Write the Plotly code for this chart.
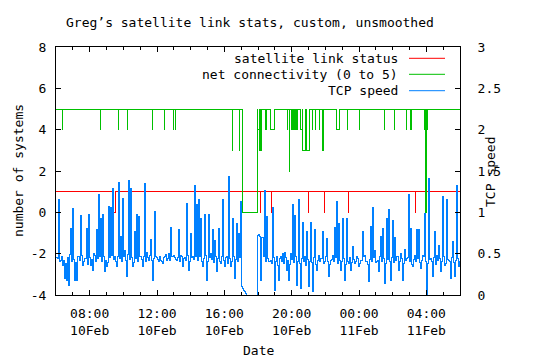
import plotly.graph_objects as go
import pandas as pd

START = "2010-02-10 06:00"
END = "2010-02-11 06:00"

SERIES_NAMES = ["satellite link status", "net connectivity (0 to 5)", "TCP speed"]
SERIES_COLORS = ["#ff0000", "#00c000", "#0080ff"]

# TCP speed readings (right axis): the spike/dip level read every ~7 minutes
tcp_peaks = [
    0.45, 1.15, 0.42, 0.36, 0.20, 0.17, 0.12, 0.80, 1.05, 0.18,
    0.17, 0.46, 0.96, 0.36, 0.44, 0.80, 0.97, 0.36, 0.30, 0.48,
    0.79, 1.21, 0.92, 0.97, 0.28, 0.34, 1.07, 1.06, 1.29, 0.47,
    0.34, 1.36, 0.71, 1.17, 0.54, 0.22, 1.39, 1.29, 0.34, 0.77,
    0.97, 0.95, 0.46, 0.34, 1.35, 0.52, 0.42, 0.67, 0.18, 1.01,
    0.45, 0.40, 0.42, 0.38, 0.47, 0.42, 0.50, 0.82, 0.47, 0.45,
    0.42, 0.79, 0.48, 0.34, 0.45, 1.11, 0.30, 0.75, 0.46, 1.32,
    1.09, 1.15, 0.92, 0.35, 0.97, 0.18, 0.97, 0.50, 0.79, 0.66,
    0.28, 0.80, 0.38, 1.15, 0.34, 0.46, 1.43, 0.34, 0.93, 0.20,
    0.87, 0.75, 1.13, 0.08, 0.04, 0.00, 0.00, 0.00, 0.00, 0.00,
    0.00,
    0.73, 0.18, 0.70, 1.27, 0.95, 0.40, 0.42, 1.06, 0.05, 0.46,
    0.18, 0.46, 0.50, 0.52, 0.30, 0.18, 0.50, 1.09, 0.96, 0.12,
    1.15, 0.08, 0.88, 0.46, 0.77, 0.10, 0.88, 0.04, 0.79, 0.30,
    0.48, 0.44, 0.77, 0.40, 0.68, 0.22, 0.42, 0.48, 0.82, 1.13,
    0.87, 0.30, 0.93, 0.18, 0.93, 0.38, 0.30, 0.59, 0.38, 0.46,
    0.34,
    0.42, 0.77, 0.48, 0.40, 0.16, 0.83, 1.06, 0.54, 0.40, 0.28,
    0.71, 0.81, 0.14, 0.93, 1.04, 0.18, 0.90, 0.70, 0.46, 0.30,
    0.50, 0.18, 0.55, 0.44, 1.22, 0.81, 0.34, 0.48, 0.79, 0.79,
    0.32, 0.48, 0.99, 0.00, 1.41, 0.44, 0.22, 0.77, 0.48, 0.60,
    0.28, 1.19, 0.36, 1.16, 0.42, 0.20, 0.65, 0.22, 1.33, 0.34,
    1.01,
]

# TCP speed band level read between consecutive readings above
tcp_band = [
    0.44, 0.40, 0.47, 0.42, 0.38, 0.45, 0.49, 0.41, 0.43, 0.39,
    0.46, 0.42, 0.48, 0.40, 0.44, 0.37, 0.45, 0.43, 0.50, 0.41,
    0.44, 0.47, 0.40, 0.46, 0.42, 0.39, 0.45, 0.48, 0.43, 0.41,
    0.47, 0.44, 0.40, 0.46, 0.42, 0.49, 0.43, 0.45, 0.39, 0.44,
    0.41, 0.47, 0.43, 0.46, 0.40, 0.45, 0.48, 0.42, 0.44, 0.46,
    0.43, 0.47, 0.41, 0.45, 0.49, 0.44, 0.42, 0.46, 0.48, 0.43,
    0.45, 0.41, 0.47, 0.44, 0.42, 0.48, 0.40, 0.45, 0.43, 0.47,
    0.42, 0.46, 0.40, 0.44, 0.48, 0.41, 0.45, 0.43, 0.39, 0.46,
    0.44, 0.40, 0.47, 0.42, 0.45, 0.38, 0.44, 0.41, 0.46, 0.43,
    0.40, 0.45, 0.10, 0.06, 0.02, 0.00, 0.00, 0.00, 0.00, 0.00,
    0.72, 0.71, 0.70, 0.46, 0.40, 0.44, 0.41, 0.38, 0.45, 0.40,
    0.36, 0.44, 0.40, 0.38, 0.45, 0.42, 0.37, 0.43, 0.39, 0.46,
    0.41, 0.38, 0.44, 0.40, 0.36, 0.43, 0.41, 0.39, 0.45, 0.37,
    0.42, 0.40, 0.44, 0.38, 0.46, 0.41, 0.37, 0.43, 0.40, 0.45,
    0.38, 0.42, 0.40, 0.44, 0.37, 0.41, 0.45, 0.39, 0.43, 0.40,
    0.44, 0.38, 0.42, 0.46, 0.40, 0.37, 0.43, 0.41, 0.45, 0.39,
    0.42, 0.46, 0.40, 0.44, 0.38, 0.43, 0.41, 0.45, 0.39, 0.42,
    0.46, 0.40, 0.44, 0.38, 0.42, 0.45, 0.41, 0.37, 0.43, 0.40,
    0.44, 0.39, 0.42, 0.46, 0.40, 0.38, 0.43, 0.41, 0.45, 0.37,
    0.42, 0.44, 0.40, 0.46, 0.38, 0.43, 0.41, 0.45, 0.39, 0.42,
    0.44, 0.40,
]

# net connectivity: normally 5, with dips (start, value, minutes)
conn_base = 5
conn_dip_start = [
    "2010-02-10 06:22", "2010-02-10 08:38", "2010-02-10 09:42", "2010-02-10 10:14",
    "2010-02-10 11:43", "2010-02-10 12:26", "2010-02-10 12:58", "2010-02-10 13:05",
    "2010-02-10 16:28", "2010-02-10 16:53", "2010-02-10 17:04", "2010-02-10 17:59",
    "2010-02-10 18:05", "2010-02-10 18:07", "2010-02-10 18:10", "2010-02-10 18:28",
    "2010-02-10 18:46", "2010-02-10 19:44", "2010-02-10 19:51", "2010-02-10 19:58",
    "2010-02-10 20:01", "2010-02-10 20:06", "2010-02-10 20:11", "2010-02-10 20:14",
    "2010-02-10 20:18", "2010-02-10 20:32", "2010-02-10 20:37", "2010-02-10 20:50",
    "2010-02-10 20:52", "2010-02-10 21:13", "2010-02-10 21:24", "2010-02-10 21:38",
    "2010-02-10 21:50", "2010-02-10 22:41", "2010-02-10 23:18", "2010-02-11 00:01",
    "2010-02-11 01:30", "2010-02-11 02:06", "2010-02-11 02:48", "2010-02-11 03:05",
    "2010-02-11 03:52", "2010-02-11 03:57", "2010-02-11 04:01",
]
conn_dip_value = [
    4, 4, 4, 4, 4, 4, 4, 4,
    3, 3, 0, 4, 3, 4, 3, 4,
    4, 4, 2, 4, 4, 4, 4, 4,
    4, 4, 3, 4, 3, 4, 4, 4,
    3, 4, 4, 4, 4, 4, 4, 4,
    4, 0, 4,
]
conn_dip_minutes = [
    2, 2, 2, 2, 2, 2, 2, 2,
    2, 2, 55, 6, 2, 3, 2, 2,
    13, 2, 2, 2, 2, 2, 2, 2,
    2, 5, 13, 2, 13, 2, 2, 2,
    2, 10, 2, 2, 2, 2, 2, 2,
    5, 4, 2,
]

# satellite link status: normally 1, drops to 0
link_base = 1
link_dip_start = [
    "2010-02-10 09:25", "2010-02-10 18:08", "2010-02-10 18:47", "2010-02-10 20:59",
    "2010-02-10 21:56", "2010-02-10 23:22", "2010-02-11 03:21", "2010-02-11 03:58",
]
link_dip_minutes = [8, 2, 2, 2, 2, 2, 2, 2]


def step_series(base, starts, values, minutes):
    xs = [pd.Timestamp(START)]
    ys = [base]
    for s, v, m in zip(starts, values, minutes):
        t = pd.Timestamp(s)
        xs += [t, t + pd.Timedelta(minutes=m)]
        ys += [v, base]
    xs.append(pd.Timestamp(END))
    ys.append(base)
    return xs, ys


link_x, link_y = step_series(link_base, link_dip_start, [0] * len(link_dip_start), link_dip_minutes)
conn_x, conn_y = step_series(conn_base, conn_dip_start, conn_dip_value, conn_dip_minutes)

tcp_y = []
for p, b in zip(tcp_peaks, tcp_band):
    tcp_y += [p, b]
tcp_y.append(tcp_peaks[-1])
tcp_x = pd.date_range(START, END, periods=len(tcp_y))

fig = go.Figure()
fig.add_trace(go.Scatter(x=link_x, y=link_y, mode="lines", line=dict(color=SERIES_COLORS[0], width=1, shape="hv"),
                         name=SERIES_NAMES[0]))
fig.add_trace(go.Scatter(x=conn_x, y=conn_y, mode="lines", line=dict(color=SERIES_COLORS[1], width=1, shape="hv"),
                         name=SERIES_NAMES[1]))
fig.add_trace(go.Scatter(x=tcp_x, y=tcp_y, mode="lines", line=dict(color=SERIES_COLORS[2], width=1, shape="hv"),
                         name=SERIES_NAMES[2], yaxis="y2"))

FONT = "DejaVu Sans Mono"
left_ticks = [-4, -2, 0, 2, 4, 6, 8]
right_ticks = [0, 0.5, 1, 1.5, 2, 2.5, 3]

fig.update_layout(
    width=540, height=360,
    margin=dict(l=56, r=80, t=47, b=65, autoexpand=False),
    paper_bgcolor="white", plot_bgcolor="white",
    showlegend=False,
    font=dict(family=FONT, size=13, color="black"),
    xaxis=dict(
        type="date", range=[START, END],
        showline=True, linecolor="black", linewidth=1, mirror="ticks",
        ticks="inside", ticklen=5, tickcolor="black", tickwidth=1,
        tick0="2010-02-10 08:00", dtick=4 * 3600 * 1000,
        tickformat="%H:%M<br>%d%b", ticklabelstandoff=6,
        showgrid=False, zeroline=False,
        minor=dict(dtick=3600 * 1000, ticks="inside", ticklen=3, tickcolor="black", showgrid=False),
    ),
    yaxis=dict(
        range=[-4, 8], tickvals=left_ticks, ticktext=[str(v) for v in left_ticks],
        ticks="inside", ticklen=5, tickcolor="black",
        showline=True, linecolor="black", linewidth=1, mirror=True,
        showgrid=False, zeroline=False, ticklabelstandoff=6,
    ),
    yaxis2=dict(
        overlaying="y", side="right", range=[0, 3],
        tickvals=right_ticks, ticktext=[("%g" % v) for v in right_ticks],
        ticks="inside", ticklen=5, tickcolor="black",
        showline=True, linecolor="black", linewidth=1,
        showgrid=False, zeroline=False, ticklabelstandoff=14,
    ),
)

annots = [
    dict(text="Greg\u2019s satellite link stats, custom, unsmoothed", x=0.479, y=1.0968,
         xanchor="center", yanchor="middle"),
    dict(text="number of systems", x=-0.094, y=0.5, textangle=-90, xanchor="center", yanchor="middle"),
    dict(text="TCP speed", x=1.0767, y=0.496, textangle=-90, xanchor="center", yanchor="middle"),
    dict(text="Date", x=0.5, y=-0.2258, xanchor="center", yanchor="middle"),
]
legend_rows = [0.9544, 0.8899, 0.8238]
shapes = []
for name, color, yy in zip(SERIES_NAMES, SERIES_COLORS, legend_rows):
    annots.append(dict(text=name, x=0.8515, y=yy, xanchor="right", yanchor="middle"))
    shapes.append(dict(type="line", xref="paper", yref="paper", x0=0.8738, x1=0.9629, y0=yy, y1=yy,
                       line=dict(color=color, width=1)))

for a in annots:
    a.update(xref="paper", yref="paper", showarrow=False, font=dict(family=FONT, size=13, color="black"))
fig.update_layout(annotations=annots, shapes=shapes)

post = (
    "document.body.style.margin='0';"
    "document.querySelectorAll('.scatterlayer path.js-line').forEach(function(p){"
    "p.style.shapeRendering='crispEdges';});"
)
fig.write_html("out.html", post_script=[post], config={"displayModeBar": False})
